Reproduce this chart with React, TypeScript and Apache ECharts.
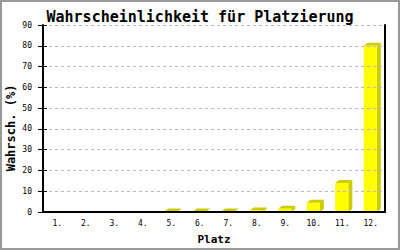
import React, { useEffect, useRef } from "react";
import * as echarts from "echarts";

const categories = ["1.", "2.", "3.", "4.", "5.", "6.", "7.", "8.", "9.", "10.", "11.", "12."];
const values = [0, 0, 0, 0, 0.2, 0.2, 0.2, 0.7, 1.6, 4.4, 14, 80];
const yTicks = { min: 0, max: 90, interval: 10 };

const FONT = "DejaVu Sans Mono";

export default function App() {
  const ref = useRef<HTMLDivElement>(null);
  useEffect(() => {
    if (!ref.current) return;
    const chart = echarts.init(ref.current, undefined, { renderer: "svg" });
    const dx = 4;
    const dy = 3;
    chart.setOption({
      animation: false,
      backgroundColor: "#ffffff",
      title: {
        text: "Wahrscheinlichkeit für Platzierung",
        left: "center",
        top: 4,
        textStyle: { fontFamily: FONT, fontSize: 15, fontWeight: "bold", color: "#000" },
      },
      grid: { left: 43, right: 15, top: 25, bottom: 36 },
      xAxis: {
        type: "category",
        data: categories,
        z: 5,
        name: "Platz",
        nameLocation: "middle",
        nameGap: 22,
        nameTextStyle: { fontFamily: FONT, fontSize: 11, fontWeight: "bold", color: "#000" },
        axisLine: { lineStyle: { color: "#000", width: 2 } },
        axisTick: { show: false },
        axisLabel: { fontFamily: FONT, fontSize: 8, color: "#000", margin: 7 },
      },
      yAxis: [
        {
          type: "value",
          ...yTicks,
          position: "left",
          z: 5,
          axisLine: { show: true, lineStyle: { color: "#000", width: 2 } },
          axisTick: { show: true, length: 5, lineStyle: { color: "#000" } },
          axisLabel: { fontFamily: FONT, fontSize: 8, color: "#000", margin: 11 },
          splitLine: { show: true, lineStyle: { color: "#bbb", type: [3, 3] } },
        },
        {
          type: "value",
          ...yTicks,
          position: "left",
          z: 5,
          axisLine: { show: false },
          axisTick: { show: true, inside: true, length: 4, lineStyle: { color: "#000" } },
          axisLabel: { show: false },
          splitLine: { show: false },
        },
        {
          type: "value",
          ...yTicks,
          position: "right",
          z: 5,
          axisLine: { show: true, lineStyle: { color: "#000", width: 2 } },
          axisTick: { show: false },
          axisLabel: { show: false },
          splitLine: { show: false },
        },
      ],
      graphic: [
        {
          type: "rect",
          shape: { x: 1, y: 1, width: 398, height: 248 },
          style: { fill: "none", stroke: "#999", lineWidth: 2 },
          silent: true,
        },
        {
          type: "text",
          x: 11,
          y: 128,
          rotation: Math.PI / 2,
          style: {
            text: "Wahrsch. (%)",
            fontFamily: FONT,
            fontSize: 12,
            fontWeight: "bold",
            fill: "#000",
            align: "center",
            verticalAlign: "middle",
          },
        },
      ],
      series: [
        {
          type: "custom",
          data: values.map((v, i) => [i, v]),
          encode: { x: 0, y: 1 },
          renderItem: (params: any, api: any) => {
            const idx = api.value(0);
            const v = api.value(1);
            if (!(v > 0)) return { type: "group", children: [] };
            const base = api.coord([idx, 0]);
            const top = api.coord([idx, v]);
            const band = api.size([1, 0])[0];
            const w = band * 0.46;
            const x0 = base[0] - w / 2 - 0.5;
            const x1 = x0 + w;
            const yT = top[1];
            const yB = base[1];
            return {
              type: "group",
              children: [
                {
                  type: "polygon",
                  shape: { points: [[x1, yT], [x1 + dx, yT - dy], [x1 + dx, yB - dy], [x1, yB]] },
                  style: { fill: "#cccc00" },
                },
                {
                  type: "polygon",
                  shape: { points: [[x0, yT], [x0 + dx, yT - dy], [x1 + dx, yT - dy], [x1, yT]] },
                  style: { fill: "#cccc00" },
                },
                {
                  type: "rect",
                  shape: { x: x0, y: yT, width: w, height: yB - yT },
                  style: { fill: "#ffff00" },
                },
              ],
            };
          },
        },
      ],
    });
    return () => chart.dispose();
  }, []);
  return (
    <div
      ref={ref}
      style={{ position: "fixed", left: 0, top: 0, width: 400, height: 250 }}
    />
  );
}
